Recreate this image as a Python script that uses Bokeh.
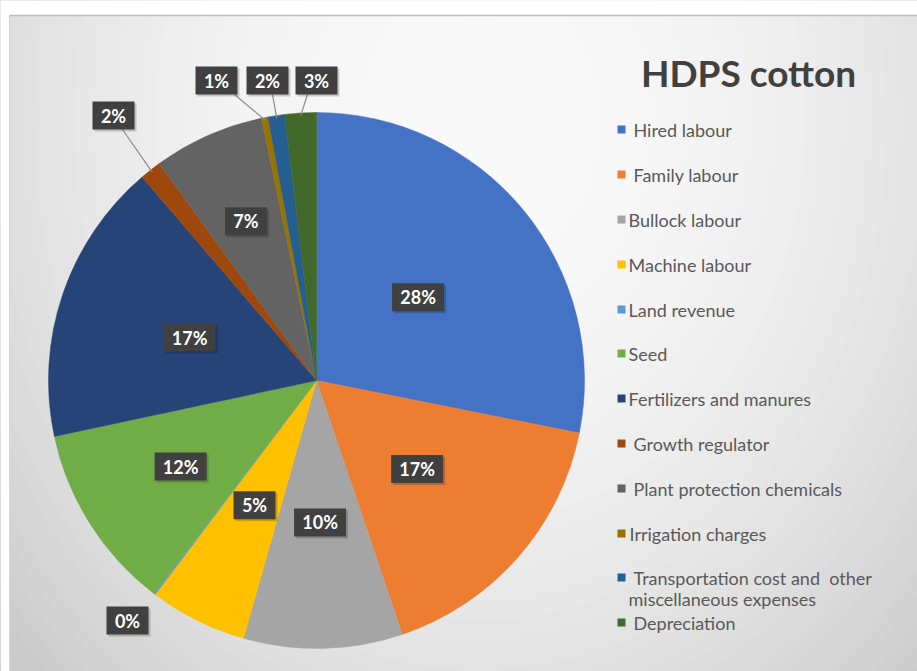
import math
from bokeh.plotting import figure
from bokeh.models import Range1d
from bokeh.core.properties import value
from bokeh.embed import file_html
from bokeh.resources import INLINE

# ---------------- data ----------------
title_text = "HDPS cotton"
categories = [
    "Hired labour", "Family labour", "Bullock labour", "Machine labour",
    "Land revenue", "Seed", "Fertilizers and manures", "Growth regulator",
    "Plant protection chemicals", "Irrigation charges",
    "Transportation cost and \u00a0other\nmiscellaneous expenses", "Depreciation",
]
shares = [28.2, 16.7, 9.6, 5.9, 0.1, 11.3, 17.1, 1.3, 6.7, 0.4, 1.0, 1.9]
pct_labels = ["28%", "17%", "10%", "5%", "0%", "12%", "17%", "2%", "7%", "1%", "2%", "3%"]
colors = ["#4472C4", "#ED7D31", "#A5A5A5", "#FFC000", "#5B9BD5", "#70AD47",
          "#264478", "#9E480E", "#636363", "#997300", "#255E91", "#43682B"]

# ---------------- layout (pixels) ----------------
W, H = 917, 671
def Y(py):
    return H - py

CX, CY, R = 316, 380, 268
inside_frac = {0: 0.49, 1: 0.50, 2: 0.53, 3: 0.52, 5: 0.60, 6: 0.50, 8: 0.65}
outside_pos = {4: (127, 620), 7: (113, 115), 9: (216, 80), 10: (267, 80), 11: (316, 80)}
leader_from = {7: (122, 129), 9: (234, 94), 10: (272, 94), 11: (307, 94)}
legend_rows = [129, 174, 219, 264, 309, 353, 398, 443, 488, 533, 577, 622]
legend_indent = [5, 5, 0, 0, 0, 0, 0, 5, 5, 1, 5, 5]
legend_line_gap = 21

p = figure(width=W, height=H, output_backend="svg", toolbar_location=None,
           x_range=Range1d(0, W), y_range=Range1d(0, H), min_border=0)
p.axis.visible = False
p.grid.visible = False
p.outline_line_color = None
p.background_fill_color = "white"
p.border_fill_color = "white"

# ---------------- background gradient ----------------
gx, gy, ga, gb = 480, 120, 650, 800
n = 60
for i in range(n, 0, -1):
    t = 1.25 * i / n
    g = int(max(198, 250 - 48 * t * t))
    col = "#%02x%02x%02x" % (g, g, g)
    p.ellipse(x=gx, y=Y(gy), width=2 * ga * t, height=2 * gb * t,
              fill_color=col, line_color=None)
# white margins outside the chart frame
p.quad(left=[0, 0], right=[9, W], bottom=[0, Y(15)], top=[H, H],
       fill_color="white", line_color=None)
p.line(x=[9, W], y=[Y(15), Y(15)], line_color="#bdbdbd", line_width=1.5)
p.line(x=[9, 9], y=[Y(15), 0], line_color="#d4d4d4", line_width=1)

# ---------------- pie ----------------
total = sum(shares)
starts, ends, mids = [], [], []
acc = 0.0
for s in shares:
    d0 = acc / total * 360.0
    acc += s
    d1 = acc / total * 360.0
    starts.append(math.pi / 2 - math.radians(d0))
    ends.append(math.pi / 2 - math.radians(d1))
    mids.append((d0 + d1) / 2.0)

p.wedge(x=CX, y=Y(CY), radius=R, start_angle=starts, end_angle=ends,
        direction="clock", fill_color=colors, line_color=colors, line_width=0.5)

def edge_point(deg, frac):
    r = R * frac
    return CX + r * math.sin(math.radians(deg)), CY - r * math.cos(math.radians(deg))

# leader lines
for i, (lx, ly) in leader_from.items():
    ex, ey = edge_point(mids[i], 0.99)
    p.line(x=[lx, ex], y=[Y(ly), Y(ey)], line_color="#8c8c8c", line_width=1.2)

# data labels
lab_x, lab_y, lab_w, lab_t = [], [], [], []
for i, txt in enumerate(pct_labels):
    if i in inside_frac:
        px, py = edge_point(mids[i], inside_frac[i])
    else:
        px, py = outside_pos[i]
    lab_x.append(px)
    lab_y.append(Y(py))
    lab_w.append(52 if len(txt) > 2 else 42)
    lab_t.append(txt)

p.rect(x=[x + 2 for x in lab_x], y=[y - 2 for y in lab_y], width=lab_w, height=28,
       fill_color="#000000", fill_alpha=0.18, line_color=None)
p.rect(x=lab_x, y=lab_y, width=lab_w, height=28,
       fill_color="#404040", line_color=None)
p.text(x=lab_x, y=lab_y, text=lab_t, text_color="white",
       text_font=value("Lato"), text_font_style="bold", text_font_size="18px",
       text_align="center", text_baseline="middle")

# ---------------- title ----------------
p.text(x=[748], y=[Y(72)], text=[title_text], text_color="#404040",
       text_font=value("Lato"), text_font_style="bold", text_font_size="37px",
       text_align="center", text_baseline="middle")

# ---------------- legend ----------------
sq_x, sq_y, tx, ty, tt = [], [], [], [], []
for i, name in enumerate(categories):
    row = legend_rows[i]
    sq_x.append(621)
    sq_y.append(Y(row))
    for k, line in enumerate(name.split("\n")):
        tx.append(628 + (legend_indent[i] if k == 0 else 0))
        ty.append(Y(row + k * legend_line_gap))
        tt.append(line)
p.rect(x=sq_x, y=sq_y, width=8, height=8, fill_color=colors, line_color=None)
p.text(x=tx, y=ty, text=tt, text_color="#595959", text_font=value("Lato"),
       text_font_size="18px", text_align="left", text_baseline="middle")

open("out.html", "w").write(file_html(p, INLINE))
